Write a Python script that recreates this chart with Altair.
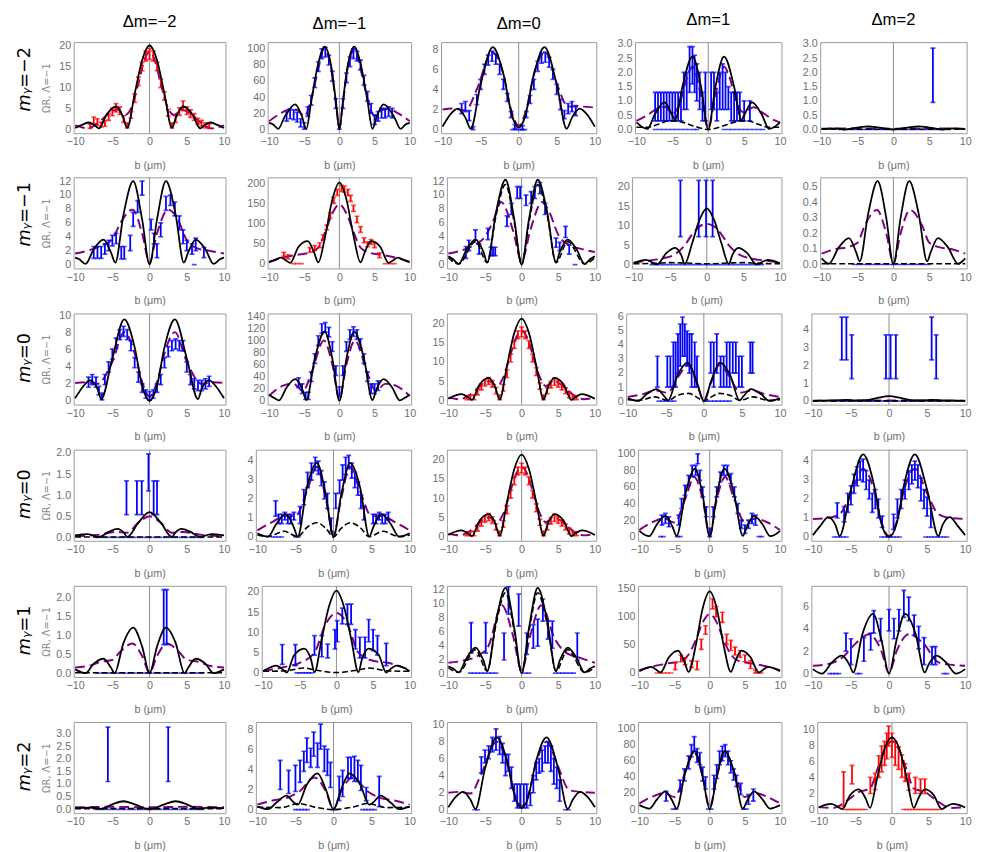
import math
import altair as alt
import pandas as pd

BLUE = "#0000ff"
RED = "#ff0000"
PURPLE = "#800080"
BLACK = "#000000"

X_TICKS = [-10, -5, 0, 5, 10]
X_DOMAIN = [-10.2, 10.2]
COL_TITLES = ["Δm=−2", "Δm=−1", "Δm=0", "Δm=1", "Δm=2"]
ROW_M = "mᵧ"
ROW_VALUES = ["=−2", "=−1", "=0", "=0", "=1", "=2"]
Y_TITLE = "ΩR, Λ=−1"
X_TITLE = "b (μm)"

# ---------------- row 1 (m=-2) ----------------
YT_11 = [0, 5, 10, 15, 20]; YD_11 = [-0.85, 20.8]
BK_11 = [(-10,0.4),(-9,1.2),(-8.2,1.7),(-7.4,1.1),(-6.8,0.3),(-5.8,3.5),(-4.5,5.5),(-3.6,3.2),(-3.0,0.4),(-2,8.5),(-1,16.5),(0,20),(1,16.5),(2,8.5),(3.0,0.4),(3.6,3.2),(4.5,5.5),(5.8,3.5),(6.8,0.3),(7.4,1.1),(8.2,1.7),(9,1.2),(10,0.4)]
PU_11 = [(-10,1.0),(-9,0.5),(-8.3,0.3),(-7,1.5),(-5.5,3.8),(-4.3,4.8),(-3.3,3.5),(-2.5,5),(-1.5,11),(-0.7,16.5),(0,18.5),(0.7,16.5),(1.5,11),(2.5,5),(3.3,3.5),(4.3,4.8),(5.5,3.8),(7,1.5),(8.3,0.3),(9,0.5),(10,1.0)]
EB_11 = [(-8.0,0.3,1.3),(-7.5,1.4,3.0),(-7.0,1.0,2.6),(-6.5,0.6,1.8),(-6.0,0.8,2.2),(-5.5,2.2,3.8),(-5.0,3.3,5.1),(-4.5,4.2,6.2),(-4.0,3.6,5.4),(-3.5,1.7,3.3),(-3.0,0.4,1.6),(-2.5,2.7,4.3),(-2.0,6.5,8.5),(-1.5,10.5,12.5),(-1.0,14.0,16.0),(-0.5,16.3,18.7),(0,16.7,19.3),(0.5,16.3,18.7),(1.0,14,16),(1.5,10,12),(2.0,7,9),(2.5,3.2,4.8),(3.0,0.4,1.6),(3.5,1.7,3.3),(4.0,3.4,5.2),(4.5,4.5,6.8),(5.0,3.6,5.4),(5.5,2.9,4.7),(6.0,2.2,3.8),(6.5,1.3,2.7),(7.0,0.8,2.2),(7.5,0.4,1.6),(8.0,0.3,1.3)]
Z_11 = []

YT_12 = [0, 20, 40, 60, 80, 100]; YD_12 = [-5, 108.5]
BK_12 = [(-10,8),(-9.4,6),(-8.7,0.5),(-7.8,15),(-6.3,31),(-5.4,18),(-4.7,0.5),(-4.0,35),(-3.0,82),(-2.1,103),(-1.2,80),(-0.5,35),(0,0),(0.5,35),(1.2,80),(2.1,103),(3.0,82),(4.0,35),(4.7,0.5),(5.4,18),(6.3,31),(7.8,15),(8.7,0.5),(9.4,6),(10,8)]
PU_12 = [(-10,10),(-8.5,19),(-7,25),(-6,24),(-5,16),(-4,38),(-3,75),(-2.2,100),(-1.2,78),(-0.4,25),(0,2),(0.4,25),(1.2,78),(2.2,100),(3,75),(4,38),(5,16),(6,24),(7,25),(8.5,19),(10,10)]
EB_12 = [(-7.5,10,22),(-7.0,13,25),(-6.5,12,24),(-6.0,9,21),(-5.5,3,13),(-5.0,0,8),(-4.5,16,28),(-4.0,30,42),(-3.5,52,64),(-3.0,72,84),(-2.5,88,100),(-2.0,90,102),(-1.5,80,92),(-1.0,60,72),(-0.5,26,38),(0,0,6),(0.5,26,38),(1.0,58,70),(1.5,78,90),(2.0,88,100),(2.5,85,97),(3.0,74,86),(3.5,55,67),(4.0,35,47),(4.5,20,32),(5.0,6,18),(5.5,10,22),(6.0,14,26),(6.5,14,26),(7.0,16,28),(7.5,14,26)]
Z_12 = []

YT_13 = [0, 2, 4, 6, 8]; YD_13 = [-0.35, 8.7]
BK_13 = [(-10,0.3),(-9,1.5),(-8,2.1),(-7,1.2),(-6.3,0.1),(-5,4.5),(-3.4,8.2),(-2,5.5),(-0.8,1.2),(0,0.2),(0.8,1.2),(2,5.5),(3.4,8.2),(5,4.5),(6.3,0.1),(7,1.2),(8,2.1),(9,1.5),(10,0.3)]
PU_13 = [(-10,2.0),(-8.5,2.1),(-7,1.9),(-5.5,4.0),(-3.5,7.7),(-2,5.5),(-1,2),(0,0.4),(1,2),(2,5.5),(3.5,7.7),(5,4.6),(6.5,2.3),(8,2.3),(10,2.2)]
EB_13 = [(-7.5,1.6,2.6),(-7.0,1.8,2.8),(-6.5,0.9,1.9),(-6.0,0.0,0.3),(-5.5,2.5,3.5),(-5.0,4.0,5.0),(-4.5,5.5,6.5),(-4.0,6.4,7.4),(-3.5,6.8,7.8),(-3.0,6.5,7.5),(-2.5,5.5,6.5),(-2.0,4.0,5.0),(-1.5,2.8,3.6),(-1.0,1.2,1.8),(-0.5,0.1,0.5),(0.5,0.0,0.4),(1.0,1.2,1.8),(1.5,2.6,3.4),(2.0,4.0,5.0),(2.5,5.8,6.8),(3.0,6.6,7.6),(3.5,6.7,7.7),(4.0,6.2,7.2),(4.5,5.0,6.0),(5.0,3.5,4.5),(5.5,2.0,3.0),(6.0,1.1,1.9),(6.5,1.6,2.6),(7.0,1.8,2.8),(7.5,1.4,2.4)]
Z_13 = [-0.8, -0.4, 0.0, 0.4, 0.8]

YT_14 = [0.0, 0.5, 1.0, 1.5, 2.0, 2.5, 3.0]; YD_14 = [-0.13, 3.06]
BK_14 = [(-10,0.25),(-8.5,0.02),(-7.4,0.55),(-6.1,0.95),(-5.0,0.5),(-4.6,0.33),(-3.6,1.5),(-2.2,2.55),(-1.0,1.5),(0,0.0),(1.0,1.5),(2.2,2.55),(3.6,1.5),(4.6,0.33),(5.0,0.5),(6.1,0.95),(7.4,0.55),(8.5,0.02),(10,0.25)]
PU_14 = [(-10,0.3),(-8.5,0.5),(-7,0.75),(-6,0.8),(-5,0.55),(-4,0.9),(-3,1.8),(-2.2,2.2),(-1,1.2),(0,0.05),(1,1.2),(2.2,2.2),(3,1.8),(4,0.9),(5,0.6),(6.3,0.78),(7.5,0.6),(9,0.35),(10,0.25)]
BD_14 = [(-10,0.08),(-8.5,0.08),(-7,0.18),(-5.5,0.3),(-4.6,0.3),(-3.5,0.25),(-2,0.12),(0,0),(2,0.12),(3.5,0.25),(4.6,0.3),(5.5,0.3),(7,0.18),(8.5,0.08),(10,0.08)]
EB_14 = [(-7.4,0.3,1.3),(-7.0,0.3,1.3),(-6.6,0.3,1.3),(-6.2,0.3,1.3),(-5.8,0.3,1.3),(-5.4,0.3,1.3),(-5.0,0.3,1.3),(-4.6,0.3,1.3),(-4.2,0.3,1.3),(-3.8,0.3,1.3),(-3.4,0.7,2.0),(-3.0,0.7,2.0),(-2.6,1.3,2.9),(-2.2,1.6,2.9),(-1.9,1.3,2.6),(-1.6,1.0,2.3),(-1.2,0.7,2.0),(-0.8,0.3,1.3),(-0.4,0.3,2.0),(0.4,0.7,2.0),(0.8,0.7,2.0),(1.2,0.3,1.3),(1.6,0.7,2.0),(2.0,0.7,2.3),(2.4,0.7,2.0),(2.8,0.7,1.5),(3.2,0.3,1.3),(3.6,0.3,1.3),(4.0,0.3,1.3),(4.4,0.3,1.3),(5.0,0.3,1.0),(5.8,0.3,1.0)]
Z_14 = [-7.4,-6.8,-6.2,-5.6,-5.0,-4.4,-3.8,-3.2,-2.6,-2.0,-1.6,2.2,2.8,3.4,4.0,4.6,5.2,5.8,6.4,7.0,7.6]

YT_15 = [0.0, 0.5, 1.0, 1.5, 2.0, 2.5, 3.0]; YD_15 = [-0.13, 3.06]
BK_15 = [(-10,0.01),(-8,0.04),(-6.8,0.0),(-5,0.07),(-3.5,0.11),(-2,0.07),(0,0.0),(2,0.07),(3.5,0.11),(5,0.07),(6.8,0.0),(8,0.04),(10,0.01)]
PU_15 = [(-10,0.03),(-5,0.04),(0,0.03),(5,0.04),(10,0.03)]
BD_15 = [(-10,0.01),(0,0.01),(10,0.01)]
EB_15 = [(5.5,0.95,2.85)]
Z_15 = [-7.3,-6.7,-6.1,-5.5,-4.9,-4.3,-3.7,-3.1,-2.5,-1.9,-1.3,-0.7,-0.1,0.5,1.1,1.7,2.3,2.9,3.5,4.1,4.7,5.3,5.9,6.5,7.1,7.7]

# ---------------- row 2 (m=-1) ----------------
YT_21 = [0, 2, 4, 6, 8, 10, 12]; YD_21 = [-0.55, 12.55]
BK_21 = [(-10,1.0),(-9.5,0.8),(-8.6,0.1),(-7.5,2.2),(-6.2,3.6),(-5.2,1.8),(-4.6,0.3),(-3.5,7.2),(-2.2,12),(-1.0,6.5),(0,0),(1.0,6.5),(2.2,12),(3.5,7.2),(4.6,0.3),(5.2,1.8),(6.2,3.6),(7.5,2.2),(8.6,0.1),(9.5,0.8),(10,1.0)]
PU_21 = [(-10,1.6),(-8,2.1),(-6.5,2.7),(-5,3.7),(-3.8,6.2),(-2.3,7.9),(-1,4.5),(0,0.3),(1,4.5),(2.5,7.9),(3.8,6.5),(5,3.5),(6.5,2.3),(8,2.0),(10,1.6)]
EB_21 = [(-7.5,0.9,2.6),(-7.0,0.9,2.6),(-6.5,0.9,2.6),(-6.0,1.5,3.0),(-5.5,2.0,3.5),(-5.0,2.7,4.2),(-4.5,3.0,4.5),(-3.8,0.8,2.6),(-3.4,0.8,2.6),(-2.6,2.0,4.2),(-2.2,5.5,7.5),(-1.6,7.5,9.2),(-1.0,10.0,12.0),(0.2,5.0,6.5),(0.6,3.0,4.5),(1.0,1.0,3.0),(1.5,4.0,6.0),(2.2,7.8,9.8),(2.8,8.5,10.0),(3.4,7.0,9.0),(4.0,5.0,7.0),(4.5,3.0,5.0),(5.0,2.0,3.5),(5.7,1.5,3.0),(6.2,2.0,3.8),(7.3,1.0,2.5)]
Z_21 = [6.0]

YT_22 = [0, 50, 100, 150, 200]; YD_22 = [-12, 215]
BK_22 = [(-10,3),(-9,10),(-8.3,15),(-7.6,8),(-7.0,2),(-5.8,42),(-4.5,56),(-3.6,28),(-3.0,3),(-2,70),(-1,160),(0,202),(1,160),(2,70),(3.0,3),(3.6,28),(4.5,56),(5.8,42),(7.0,2),(7.6,8),(8.3,15),(9,10),(10,3)]
PU_22 = [(-10,5),(-8,15),(-6,22),(-4.5,26),(-3,40),(-2,80),(-1,125),(0,148),(1,125),(2,80),(3,40),(4.5,26),(6,22),(8,15),(10,5)]
EB_22 = [(-7.9,18,28),(-7.3,12,22),(-4.2,28,40),(-3.5,33,45),(-2.8,40,52),(-2.3,60,72),(-1.8,84,96),(-1.3,113,127),(-0.8,150,165),(-0.3,170,185),(0.3,180,195),(0.7,178,193),(1.2,170,185),(1.6,155,170),(2.0,130,145),(2.5,102,118),(3.0,78,92),(3.5,52,64),(4.0,42,54),(4.5,48,60),(5.0,40,52),(5.7,15,27)]
Z_22 = [-6.5, -6.0, -5.4, 6.5, 7.2, 7.8]

YT_23 = [0, 2, 4, 6, 8, 10, 12]; YD_23 = [-0.55, 12.55]
BK_23 = [(-10,1.2),(-9.4,0.8),(-8.6,0.1),(-7.5,2.2),(-6.3,3.6),(-5.2,1.8),(-4.7,0.3),(-3.5,7.5),(-2.2,12.2),(-1.0,6.5),(0,0),(1.0,6.5),(2.2,12.2),(3.5,7.5),(4.7,0.3),(5.2,1.8),(6.3,3.6),(7.5,2.2),(8.6,0.1),(9.4,0.8),(10,1.2)]
BD_23 = [(-10,1.0),(-8.6,0.1),(-6.3,3.3),(-4.7,0.3),(-3.5,7.0),(-2.2,11.5),(-1.0,6.0),(0,0),(1.0,6.0),(2.2,11.5),(3.5,7.0),(4.7,0.3),(6.3,3.3),(8.6,0.1),(10,1.0)]
PU_23 = [(-10,1.6),(-8,2.1),(-6.5,2.8),(-5,4),(-3.8,6.5),(-2.8,9),(-1.2,5),(0,0.5),(1.2,5),(2.8,9),(3.8,7.5),(5,4.3),(6.5,2.8),(8,2.3),(10,1.8)]
EB_23 = [(-7.6,0.9,2.6),(-7.2,2.0,3.5),(-6.3,3.5,5.0),(-5.8,1.5,3.0),(-4.6,3.6,5.2),(-4.2,1.3,2.5),(-3.9,1.3,2.5),(-3.6,1.3,2.5),(-2.0,5.5,7.0),(-1.4,7.2,8.8),(-0.6,9.5,11.2),(-0.2,9.5,11.2),(0.6,8.5,10.0),(1.3,8.8,10.5),(1.8,9.5,11.2),(2.5,10.2,11.8),(3.2,7.2,8.8),(4.7,2.5,3.8),(5.2,2.0,3.2),(6.0,3.9,5.5),(6.5,1.5,2.8)]
Z_23 = [7.3]

YT_24 = [0, 5, 10, 15, 20]; YD_24 = [-1.0, 22.5]
BK_24 = [(-10,0.3),(-9,1.0),(-8.3,1.2),(-7.5,0.6),(-6.8,0.05),(-5.5,3.0),(-4.3,4.3),(-3.5,2.5),(-3.0,0.2),(-2,5.5),(-1,11.5),(0,14.5),(1,11.5),(2,5.5),(3.0,0.2),(3.5,2.5),(4.3,4.3),(5.5,3.0),(6.8,0.05),(7.5,0.6),(8.3,1.2),(9,1.0),(10,0.3)]
PU_24 = [(-10,0.5),(-8,1.0),(-6,1.6),(-4.5,2.5),(-3,5),(-2,7.8),(-1,9.8),(0,10.5),(1,9.8),(2,7.8),(3,5),(4.5,2.5),(6,1.6),(8,1.0),(10,0.5)]
BD_24 = [(-10,0.2),(-7,0.3),(-5,0.5),(-3,0.4),(0,0.2),(3,0.4),(5,0.5),(7,0.3),(10,0.2)]
EB_24 = [(-3.6,7.2,21.7),(-1.1,7.2,21.7),(-0.1,7.2,21.7),(0.8,7.2,21.7)]
Z_24 = [-7.5,-6.9,-6.3,-5.7,-5.1,-4.5,-3.9,-3.3,-2.7,-2.1,-1.5,-0.9,-0.3,0.3,0.9,1.5,2.1,2.7,3.3,3.9,4.5,5.1,5.7,6.3,6.9,7.5]

YT_25 = [0.0, 0.1, 0.2, 0.3, 0.4, 0.5]; YD_25 = [-0.025, 0.56]
BK_25 = [(-10,0.04),(-9,0.005),(-7.6,0.11),(-6.2,0.17),(-5.2,0.08),(-4.7,0.02),(-3.5,0.33),(-2.2,0.535),(-1.0,0.3),(0,0),(1.0,0.3),(2.2,0.535),(3.5,0.33),(4.7,0.02),(5.2,0.08),(6.2,0.17),(7.6,0.11),(9,0.005),(10,0.04)]
PU_25 = [(-10,0.07),(-8,0.1),(-6.5,0.11),(-5,0.14),(-4,0.25),(-2.3,0.35),(-1,0.2),(0,0.01),(1,0.2),(2.3,0.35),(4,0.25),(5,0.14),(6.5,0.11),(8,0.1),(10,0.07)]
BD_25 = [(-10,0.005),(0,0.005),(10,0.005)]
EB_25 = []
Z_25 = [-5.4,-4.8,-4.2,-3.6,-3.0,-2.4,-1.8,-1.2,-0.6,0.0,0.6,1.2,1.8,2.4,3.0,3.6,4.2,4.8]

# ---------------- row 3 (m=0) ----------------
YT_31 = [0, 2, 4, 6, 8, 10]; YD_31 = [-0.45, 10.3]
BK_31 = [(-10,0.3),(-9,1.6),(-8,2.4),(-7,1.4),(-6.5,0.2),(-5,5),(-3.4,9.6),(-2,6.3),(-1,1.8),(0,0),(1,1.8),(2,6.3),(3.4,9.6),(5,5),(6.5,0.2),(7,1.4),(8,2.4),(9,1.6),(10,0.3)]
PU_31 = [(-10,2.1),(-8.5,2.2),(-7,2.0),(-5,4.6),(-3.4,8.1),(-2,5.6),(-1,2.2),(0,0.5),(1,2.2),(2,5.6),(3.4,8.1),(5,4.6),(7,2.0),(8.5,2.2),(10,2.1)]
EB_31 = [(-8.2,1.6,2.8),(-7.7,1.9,3.1),(-7.2,1.6,2.8),(-6.8,0.7,1.7),(-6.4,0.1,0.9),(-6.0,1.9,3.1),(-5.5,3.4,4.6),(-5.0,4.9,6.1),(-4.5,6.2,7.4),(-4.0,7.2,8.4),(-3.5,7.6,8.8),(-3.0,7.2,8.4),(-2.5,5.9,7.1),(-2.0,3.9,5.1),(-1.5,2.2,3.4),(-1.0,1.0,2.0),(-0.5,0.3,1.3),(0,0.1,1.1),(0.5,0.3,1.3),(1.0,1.0,2.0),(1.5,1.9,3.1),(2.0,3.9,5.1),(2.5,5.2,6.4),(3.0,5.9,7.1),(3.5,6.1,7.3),(4.0,5.9,7.1),(4.5,5.9,7.1),(5.0,3.4,4.6),(5.5,1.9,3.1),(6.0,1.4,2.6),(6.5,1.2,2.4),(7.0,1.2,2.4),(7.5,1.4,2.6),(8.0,1.7,2.9)]
Z_31 = []

YT_32 = [0, 20, 40, 60, 80, 100, 120, 140]; YD_32 = [-6.5, 145]
BK_32 = [(-10,10),(-9.2,4),(-8.6,0.5),(-7.5,22),(-6.3,36),(-5.3,20),(-4.7,1),(-3.5,70),(-2.1,115),(-1,70),(0,0),(1,70),(2.1,115),(3.5,70),(4.7,1),(5.3,20),(6.3,36),(7.5,22),(8.6,0.5),(9.2,4),(10,10)]
PU_32 = [(-10,8),(-8,25),(-6.5,28),(-5.2,16),(-4,45),(-2.2,100),(-1,60),(0,3),(1,60),(2.2,100),(4,45),(5.2,16),(6.5,28),(8,25),(10,8)]
EB_32 = [(-5.8,22,38),(-5.3,12,28),(-4.8,2,14),(-4.4,2,14),(-4.0,32,48),(-3.5,62,78),(-3.0,92,108),(-2.5,112,128),(-2.0,114,130),(-1.5,106,122),(-1.0,82,98),(-0.5,42,58),(0,7,23),(0.5,42,58),(1.0,82,98),(1.5,102,118),(2.0,107,123),(2.5,102,118),(3.0,87,103),(3.5,62,78),(4.0,32,48),(4.5,12,28),(5.0,12,28),(5.5,17,33)]
Z_32 = []

YT_33 = [0, 5, 10, 15, 20]; YD_33 = [-1.0, 22.5]
BK_33 = [(-10,0.5),(-9,1.4),(-8.2,1.7),(-7.4,1.0),(-6.8,0.2),(-5.8,4.0),(-4.5,5.9),(-3.6,3.5),(-3.0,0.3),(-2,9),(-1,17.5),(0,21.2),(1,17.5),(2,9),(3.0,0.3),(3.6,3.5),(4.5,5.9),(5.8,4.0),(6.8,0.2),(7.4,1.0),(8.2,1.7),(9,1.4),(10,0.5)]
PU_33 = [(-10,0.8),(-8.5,0.4),(-7,1.6),(-5.5,4),(-4.4,5.0),(-3.3,3.8),(-2.5,6),(-1.5,12),(-0.7,16.5),(0,18),(0.7,16.5),(1.5,12),(2.5,6),(3.3,3.8),(4.4,5.0),(5.5,4),(7,1.6),(8.5,0.4),(10,0.8)]
EB_33 = [(-7.5,0.3,1.3),(-7.0,0.3,1.3),(-6.5,0.3,1.5),(-6.0,1.5,3.0),(-5.5,2.8,4.4),(-5.0,3.8,5.4),(-4.5,4.2,6.0),(-4.0,3.5,5.2),(-3.5,1.8,3.4),(-3.0,0.3,1.5),(-2.5,2.5,4.2),(-2.0,6.0,8.0),(-1.5,10.0,12.0),(-1.0,13.5,15.5),(-0.5,16.0,18.0),(0,16.5,19.0),(0.5,16.0,18.0),(1.0,13.5,15.5),(1.5,10.0,12.0),(2.0,6.5,8.5),(2.5,3.0,4.6),(3.0,0.3,1.5),(3.5,1.8,3.4),(4.0,3.3,5.0),(4.5,4.0,5.8),(5.0,3.5,5.2),(5.5,2.8,4.4),(6.0,1.8,3.3),(6.5,0.8,2.2),(7.0,0.3,1.3),(7.5,0.3,1.3)]
Z_33 = []

YT_34 = [0, 1, 2, 3, 4, 5, 6]; YD_34 = [-0.25, 6.25]
BK_34 = [(-10,0.2),(-8.6,0.02),(-7.5,0.5),(-6.2,0.85),(-5.2,0.35),(-4.7,0.05),(-3.5,1.8),(-2.1,2.75),(-1,1.5),(0,0),(1,1.5),(2.1,2.75),(3.5,1.8),(4.7,0.05),(5.2,0.35),(6.2,0.85),(7.5,0.5),(8.6,0.02),(10,0.2)]
BD_34 = [(-10,0.1),(-8.5,0.05),(-6.5,0.3),(-4.7,0.05),(-3.5,0.4),(-2,0.55),(-1,0.3),(0,0),(1,0.3),(2,0.55),(3.5,0.4),(4.7,0.05),(6.5,0.3),(8.5,0.05),(10,0.1)]
PU_34 = [(-10,0.3),(-8,0.5),(-6.3,0.75),(-4.8,0.6),(-3.3,1.8),(-2.1,2.6),(-1,1.4),(0,0.05),(1,1.4),(2.1,2.6),(3.3,1.8),(4.8,0.6),(6.3,0.75),(8,0.5),(10,0.3)]
EB_34 = [(-6.1,1.0,3.2),(-4.8,1.0,3.2),(-4.4,1.0,3.2),(-4.0,1.0,4.2),(-3.7,1.0,4.2),(-3.4,2.0,4.8),(-3.1,2.5,5.5),(-2.8,3.2,6.0),(-2.5,3.2,5.5),(-2.2,2.5,5.0),(-1.9,2.0,4.8),(-1.6,1.0,4.8),(-1.2,1.0,4.2),(-0.9,1.0,3.2),(0.9,2.0,4.2),(1.3,1.0,4.2),(1.7,2.0,4.8),(2.2,1.0,3.2),(2.6,1.0,3.2),(3.0,1.0,4.2),(3.4,1.0,4.2),(3.8,2.0,4.2),(4.2,2.0,4.2),(4.6,1.0,3.2),(5.0,1.0,3.2),(6.1,2.0,4.2),(6.4,2.0,4.2)]
Z_34 = [-5.9,-5.4,-4.9,-4.4,-3.9,0.4,0.9,1.4,1.9,2.4,2.9,3.4]

YT_35 = [0, 1, 2, 3, 4]; YD_35 = [-0.2, 4.9]
BK_35 = [(-10,0.01),(-7,0.04),(-5.5,0.06),(-4.5,0.03),(-3,0.05),(-1.5,0.18),(0,0.27),(1.5,0.18),(3,0.05),(4.5,0.03),(5.5,0.06),(7,0.04),(10,0.01)]
PU_35 = [(-10,0.02),(0,0.03),(10,0.02)]
BD_35 = [(-10,0.01),(0,0.01),(10,0.01)]
EB_35 = [(-6.2,2.3,4.7),(-5.6,2.3,4.7),(-4.9,1.25,3.7),(-0.4,1.25,3.7),(0.2,1.25,3.7),(0.9,1.25,3.7),(5.6,2.3,4.7),(6.2,1.25,3.7)]
Z_35 = [-7.2,-6.6,-6.0,-5.4,-4.8,-4.2,-3.6,-3.0,-2.4,-1.8,-1.2,-0.6,0.0,0.6,1.2,1.8,2.4,3.0,3.6,4.2,4.8,5.4,6.0,6.6,7.2]

# ---------------- row 4 (m=0, second) ----------------
YT_41 = [0.0, 0.5, 1.0, 1.5, 2.0]; YD_41 = [-0.08, 2.08]
BK_41 = [(-10,0.05),(-8.3,0.08),(-6.8,0.01),(-5.5,0.13),(-4.3,0.2),(-3.4,0.1),(-3.0,0.01),(-1.5,0.35),(0,0.6),(1.5,0.35),(3.0,0.01),(3.4,0.1),(4.3,0.2),(5.5,0.13),(6.8,0.01),(8.3,0.08),(10,0.05)]
PU_41 = [(-10,0.03),(-7,0.06),(-4.5,0.13),(-3,0.11),(-1.5,0.35),(0,0.5),(1.5,0.35),(3,0.11),(4.5,0.13),(7,0.06),(10,0.03)]
BD_41 = [(-10,0.01),(0,0.01),(10,0.01)]
EB_41 = [(-3.1,0.54,1.34),(-1.7,0.54,1.34),(-1.05,0.54,1.34),(-0.15,1.1,1.98),(0.55,0.54,1.34),(1.0,0.54,1.34)]
Z_41 = [-7.0,-6.3,-5.6,-4.9,-4.2,-3.5,-2.8,-2.1,-1.4,-0.7,0.0,0.7,1.4,2.1,2.8,3.5,4.2,4.9,5.6,6.3,7.0]

YT_42 = [0, 1, 2, 3, 4]; YD_42 = [-0.2, 4.6]
BK_42 = [(-10,0.2),(-8.6,0.02),(-7.5,0.7),(-6.3,1.2),(-5.2,0.5),(-4.7,0.02),(-3.5,2.6),(-2.2,3.9),(-1,2.2),(0,0),(1,2.2),(2.2,3.9),(3.5,2.6),(4.7,0.02),(5.2,0.5),(6.3,1.2),(7.5,0.7),(8.6,0.02),(10,0.2)]
BD_42 = [(-10,0.1),(-8.6,0.02),(-6.5,0.3),(-4.7,0.02),(-3.5,0.5),(-2.2,0.75),(-1,0.45),(0,0),(1,0.45),(2.2,0.75),(3.5,0.5),(4.7,0.02),(6.5,0.3),(8.6,0.02),(10,0.1)]
PU_42 = [(-10,0.35),(-8,0.8),(-6.5,1.1),(-5,1.1),(-3.5,2.4),(-2.2,3.7),(-1,2),(0,0.1),(1,2),(2.2,3.7),(3.5,2.4),(5,1.1),(6.5,1.1),(8,0.8),(10,0.35)]
EB_42 = [(-7.6,1.1,1.9),(-7.2,0.7,1.2),(-6.8,0.7,1.2),(-6.4,0.9,1.3),(-6.0,0.7,1.2),(-5.6,0.7,1.2),(-5.2,0.9,1.3),(-4.4,0.7,1.6),(-3.9,1.7,2.5),(-3.4,2.6,3.4),(-2.9,3.0,3.9),(-2.4,3.5,4.2),(-2.0,3.3,4.0),(-1.6,2.7,3.5),(-1.2,2.0,2.9),(-0.8,1.5,2.3),(-0.3,0.3,1.0),(0.3,1.5,2.3),(0.8,2.3,3.0),(1.2,3.0,3.8),(1.6,3.3,4.2),(2.0,3.6,4.3),(2.4,3.1,3.9),(2.8,2.6,3.4),(3.2,2.2,2.9),(3.6,1.5,2.2),(4.0,0.9,1.6),(5.2,0.7,1.2),(5.6,0.7,1.2),(6.0,0.9,1.3),(6.4,0.7,1.2),(6.8,0.7,1.2),(7.2,0.9,1.3)]
Z_42 = [-8.0,-7.6,-7.2,-6.8,-5.0,-4.6]

YT_44 = [0, 20, 40, 60, 80, 100]; YD_44 = [-5, 105]
BK_44 = [(-10,7),(-9.2,2),(-8.6,0.5),(-7.5,15),(-6.3,25),(-5.3,12),(-4.7,1),(-3.5,50),(-2.1,82),(-1,50),(0,0),(1,50),(2.1,82),(3.5,50),(4.7,1),(5.3,12),(6.3,25),(7.5,15),(8.6,0.5),(9.2,2),(10,7)]
PU_44 = [(-10,8),(-8,18),(-6.5,22),(-5,17),(-3.5,45),(-2.2,72),(-1,45),(0,2),(1,45),(2.2,72),(3.5,45),(5,17),(6.5,22),(8,18),(10,8)]
EB_44 = [(-6.8,14,26),(-6.3,16,28),(-5.8,12,24),(-4.4,14,26),(-4.0,34,46),(-3.5,50,62),(-3.0,62,74),(-2.5,72,86),(-2.0,74,86),(-1.7,88,100),(-1.4,68,80),(-1.0,48,60),(-0.5,24,36),(0,0,10),(0.5,24,36),(1.0,48,60),(1.5,66,78),(2.0,74,86),(2.5,74,86),(3.0,64,76),(3.5,48,60),(4.0,28,40),(4.5,10,20),(5.0,4,14),(5.5,10,20),(6.0,16,28),(6.5,14,26)]
Z_44 = [-7.0,-6.6,-4.6,-4.2,7.0,7.4]

YT_45 = [0, 1, 2, 3, 4]; YD_45 = [-0.2, 4.6]
BK_45 = [(-10,0.1),(-9,0.6),(-8,1.05),(-7,0.6),(-6.5,0.05),(-5,2.5),(-3.4,4.35),(-2,2.8),(-1,0.7),(0,0),(1,0.7),(2,2.8),(3.4,4.35),(5,2.5),(6.5,0.05),(7,0.6),(8,1.05),(9,0.6),(10,0.1)]
PU_45 = [(-10,0.95),(-8,1.0),(-6.5,1.2),(-5,2.3),(-3.4,3.6),(-2,2.5),(-1,0.8),(0,0.05),(1,0.8),(2,2.5),(3.4,3.6),(5,2.3),(6.5,1.2),(8,1.0),(10,0.95)]
EB_45 = [(-6.8,1.0,1.8),(-5.9,0.8,1.6),(-5.4,1.3,2.3),(-5.0,1.7,2.7),(-4.6,2.3,3.3),(-4.2,2.7,3.7),(-3.8,3.0,4.0),(-3.4,2.9,4.1),(-3.0,2.5,3.5),(-2.6,2.0,3.0),(-2.2,1.3,2.3),(-1.8,1.5,2.5),(-1.4,1.0,2.0),(-0.9,0.5,1.1),(0.6,0.4,1.2),(1.1,1.0,2.0),(1.6,1.5,2.5),(2.1,2.0,3.0),(2.6,2.5,3.5),(3.0,2.8,3.8),(3.4,3.0,4.0),(3.8,2.6,3.8),(4.2,1.9,3.1),(4.6,1.5,2.5),(5.0,1.1,2.1),(5.5,0.5,1.5)]
Z_45 = [-7.2,-6.8,-6.4,-6.0,-5.6,-1.0,-0.6,-0.2,0.2,0.6,1.0,1.4,4.8,5.2,5.6,6.0,6.4,6.8,7.2,7.6]

# ---------------- row 5 (m=1) ----------------
YT_51 = [0.0, 0.5, 1.0, 1.5, 2.0]; YD_51 = [-0.1, 2.3]
BK_51 = [(-10,0.1),(-8.6,0.0),(-7.5,0.25),(-6.2,0.38),(-5.2,0.15),(-4.7,0.0),(-3.5,0.8),(-2.2,1.2),(-1,0.7),(0,0),(1,0.7),(2.2,1.2),(3.5,0.8),(4.7,0.0),(5.2,0.15),(6.2,0.38),(7.5,0.25),(8.6,0.0),(10,0.1)]
PU_51 = [(-10,0.15),(-8,0.2),(-6.5,0.3),(-5,0.35),(-4,0.55),(-2.3,0.78),(-1,0.45),(0,0.02),(1,0.45),(2.3,0.78),(4,0.55),(5,0.35),(6.5,0.3),(8,0.2),(10,0.15)]
BD_51 = [(-10,0.01),(0,0.01),(10,0.01)]
EB_51 = [(1.9,0.75,2.2),(2.3,0.75,2.2)]
Z_51 = [-7.0,-6.3,-5.6,-4.9,-4.2,-3.5,-2.8,-2.1,-1.4,-0.7,0.0,0.7,1.4,2.1,2.8,3.5,4.2,4.9,5.6,6.3,7.0]

YT_52 = [0, 5, 10, 15, 20]; YD_52 = [-1.0, 21.5]
BK_52 = [(-10,0.5),(-9,1.4),(-8.2,1.8),(-7.4,1.0),(-6.8,0.1),(-5.8,4.3),(-4.4,6.0),(-3.5,3.5),(-3.0,0.2),(-2,8.5),(-1,16.5),(0,20.3),(1,16.5),(2,8.5),(3.0,0.2),(3.5,3.5),(4.4,6.0),(5.8,4.3),(6.8,0.1),(7.4,1.0),(8.2,1.8),(9,1.4),(10,0.5)]
PU_52 = [(-10,0.5),(-7,1.5),(-5,2.5),(-3,5),(-1.5,12),(0,14.8),(1.5,12),(3,5),(5,3),(7,2.5),(10,0.8)]
BD_52 = [(-10,0.4),(-7,0.5),(-4.5,1.2),(-2.5,0.6),(0,0.1),(2.5,0.6),(4.5,1.2),(7,0.5),(10,0.4)]
EB_52 = [(-7.4,2.1,7.0),(-5.6,1.8,7.0),(-3.0,4.4,9.2),(-2.0,4.0,9.2),(-1.2,3.7,7.1),(-0.2,5.9,10.7),(0.1,7.7,12.9),(0.8,12.1,16.0),(1.5,12.0,17.0),(2.0,12.0,17.0),(2.6,5.9,10.7),(3.2,3.7,8.8),(3.9,3.7,8.8),(4.4,7.7,13.2),(5.0,5.5,10.7),(5.6,4.4,9.2),(6.8,1.8,7.3)]
Z_52 = [-5.4,-5.0,-4.6,-4.2,-3.8,-3.4]

YT_53 = [0, 2, 4, 6, 8, 10, 12]; YD_53 = [-0.55, 12.6]
BK_53 = [(-10,1.0),(-9.4,0.7),(-8.6,0.1),(-7.5,2.2),(-6.3,3.7),(-5.2,1.8),(-4.7,0.3),(-3.5,7.5),(-2.2,12.3),(-1.0,6.5),(0,0),(1.0,6.5),(2.2,12.3),(3.5,7.5),(4.7,0.3),(5.2,1.8),(6.3,3.7),(7.5,2.2),(8.6,0.1),(9.4,0.7),(10,1.0)]
BD_53 = [(-10,0.8),(-8.6,0.1),(-6.3,3.4),(-4.7,0.3),(-3.5,7.0),(-2.2,11.6),(-1.0,6.0),(0,0),(1.0,6.0),(2.2,11.6),(3.5,7.0),(4.7,0.3),(6.3,3.4),(8.6,0.1),(10,0.8)]
PU_53 = [(-10,1.5),(-8,1.8),(-6,2.5),(-4.5,4),(-2.7,9.8),(-1.2,5.5),(0,0.4),(1.2,5.5),(2.7,9.8),(4.5,5),(6,3),(8,2.2),(10,1.5)]
EB_53 = [(-6.9,2.9,7.3),(-4.9,2.9,7.3),(-2.4,1.9,5.8),(-1.8,8.5,12.5),(-0.4,6.8,11.4),(0.7,2.7,5.8),(1.6,3.6,7.0),(2.2,3.9,7.8),(2.9,7.5,10.7),(3.6,4.9,7.5),(4.2,3.6,7.5),(7.6,1.9,5.8)]
Z_53 = [-7.0,-6.5,-6.0,-5.5,-5.0,-4.5,-4.0,-3.5,0.5,1.0,4.6,5.1,5.6,6.1,6.6,7.1]

YT_54 = [0, 50, 100, 150]; YD_54 = [-7, 155]
BK_54 = [(-10,3),(-9,9),(-8.3,11),(-7.6,6),(-7,1),(-5.8,28),(-4.5,40),(-3.6,20),(-3,2),(-2,48),(-1,115),(0,145),(1,115),(2,48),(3,2),(3.6,20),(4.5,40),(5.8,28),(7,1),(7.6,6),(8.3,11),(9,9),(10,3)]
PU_54 = [(-10,5),(-8,12),(-6,17),(-4,22),(-3,33),(-2,58),(-1,90),(0,105),(1,90),(2,58),(3,33),(4,22),(6,17),(8,12),(10,5)]
EB_54 = [(-4.9,6,18),(-4.1,20,32),(-3.5,15,27),(-2.6,10,22),(-1.8,6,21),(-1.2,42,60),(-0.6,69,84),(0.4,114,132),(0.9,100,118),(1.8,90,108),(2.4,51,69),(3.0,40,58),(3.6,32,46),(4.3,28,40),(5.0,20,32),(5.8,8,22),(6.5,0,6)]
Z_54 = [-7.5,-7.0,-6.5,-6.0,-5.5,6.8,7.3]

YT_55 = [0, 2, 4, 6]; YD_55 = [-0.3, 7.8]
BK_55 = [(-10,0.4),(-8.8,0.0),(-7.5,1.0),(-6.2,1.6),(-5.2,0.8),(-4.7,0.1),(-3.5,3.5),(-2.1,5.3),(-1,3),(0,0),(1,3),(2.1,5.3),(3.5,3.5),(4.7,0.1),(5.2,0.8),(6.2,1.6),(7.5,1.0),(8.8,0.0),(10,0.4)]
PU_55 = [(-10,0.7),(-8,0.85),(-6,1.5),(-4.5,2.6),(-2.6,3.5),(-1,2),(0,0.05),(1,2),(2.6,3.5),(4.5,2.7),(6.5,1.0),(8,0.8),(10,0.7)]
EB_55 = [(-5.65,2.0,3.6),(-5.0,0.8,3.1),(-3.3,1.1,3.2),(-2.4,2.1,3.6),(-2.0,3.6,5.6),(-1.1,2.9,4.9),(0,3.8,5.7),(0.65,3.1,4.9),(1.3,3.8,5.7),(1.95,5.0,7.4),(2.6,4.7,6.8),(3.3,3.4,5.2),(3.9,2.2,4.2),(4.6,0.8,3.2),(5.65,0.8,2.4),(6.1,0.8,2.4)]
Z_55 = [-7.8,-7.4,-7.0,-6.6,-4.2,-3.8,7.2,7.6]

# ---------------- row 6 (m=2) ----------------
YT_61 = [0.0, 0.5, 1.0, 1.5, 2.0, 2.5, 3.0]; YD_61 = [-0.15, 3.45]
BK_61 = [(-10,0.05),(-8,0.07),(-6.5,0.02),(-5,0.2),(-3.5,0.32),(-2,0.2),(0,0.0),(2,0.2),(3.5,0.32),(5,0.2),(6.5,0.02),(8,0.07),(10,0.05)]
PU_61 = [(-10,0.08),(-5,0.1),(0,0.08),(5,0.1),(10,0.08)]
BD_61 = [(-10,0.03),(0,0.03),(10,0.03)]
EB_61 = [(-5.6,1.1,3.25),(2.5,1.1,3.25)]
Z_61 = [-7.0,-6.3,-5.6,-4.9,-4.2,-3.5,-2.8,-2.1,-1.4,-0.7,0.0,0.7,1.4,2.1,2.8,3.5,4.2,4.9,5.6,6.3,7.0]

YT_62 = [0, 2, 4, 6, 8]; YD_62 = [-0.35, 8.7]
BK_62 = [(-10,0.3),(-8.6,0.05),(-7.5,0.7),(-6.2,1.4),(-5.2,0.7),(-4.7,0.5),(-3.5,2.5),(-2.1,3.6),(-1,2),(0,0),(1,2),(2.1,3.6),(3.5,2.5),(4.7,0.5),(5.2,0.7),(6.2,1.4),(7.5,0.7),(8.6,0.05),(10,0.3)]
PU_62 = [(-10,0.5),(-8,0.9),(-6,1.2),(-4.5,1.8),(-2.5,3.2),(-1,1.8),(0,0.05),(1,1.8),(2.5,3.2),(4.5,1.8),(6,1.2),(8,0.9),(10,0.5)]
BD_62 = [(-10,0.25),(-7,0.2),(-4.5,0.6),(-2.5,0.25),(0,0),(2.5,0.25),(4.5,0.6),(7,0.2),(10,0.25)]
EB_62 = [(-7.0,2.0,4.9),(-5.9,1.6,3.9),(-5.0,1.8,4.4),(-4.4,2.7,4.9),(-3.9,3.8,5.8),(-3.5,4.7,7.1),(-3.0,4.2,6.1),(-2.6,5.3,7.7),(-2.1,4.2,6.6),(-1.7,6.0,8.5),(-1.2,3.8,6.3),(-0.8,3.4,6.0),(-0.4,2.2,4.7),(0.75,0.9,3.3),(1.2,1.3,3.9),(1.9,3.1,5.2),(2.3,3.1,5.2),(2.75,2.8,5.3),(3.2,2.8,4.9),(3.6,1.9,4.4),(4.3,0.9,2.2),(6.0,0.3,3.3)]
Z_62 = [-5.0,-4.6,-4.2,-3.8,-3.4,0.0,0.4,3.8,4.2,4.6,5.0,5.4]

YT_63 = [0, 2, 4, 6, 8, 10]; YD_63 = [-0.4, 10.3]
BK_63 = [(-10,0.3),(-9,1.5),(-8,2.1),(-7,1.2),(-6.3,0.1),(-5,4.8),(-3.4,8.5),(-2,5.8),(-0.8,1.2),(0,0.2),(0.8,1.2),(2,5.8),(3.4,8.5),(5,4.8),(6.3,0.1),(7,1.2),(8,2.1),(9,1.5),(10,0.3)]
PU_63 = [(-10,2.0),(-8.5,2.1),(-7,1.9),(-5.5,4.2),(-3.4,8.0),(-2,5.5),(-1,2),(0,0.4),(1,2),(2,5.5),(3.4,8.0),(5,5),(6.5,2.3),(8,2.1),(10,2.0)]
EB_63 = [(-5.5,4.3,6.2),(-5.0,5.5,7.0),(-4.5,6.0,7.5),(-4.0,6.8,8.5),(-3.5,7.0,9.5),(-3.0,6.5,8.6),(-2.6,5.5,7.8),(-2.2,4.0,6.5),(-1.8,4.5,6.5),(-1.4,2.5,5.0),(-1.0,1.0,3.0),(-0.6,0.2,3.0),(-0.2,0.2,3.0),(0.3,0.2,3.0),(0.7,0.2,3.0),(1.2,0.5,2.0),(1.6,2.0,4.0),(2.0,3.5,5.5),(2.4,4.3,6.0),(2.8,4.5,7.0),(3.2,5.5,7.5),(3.6,5.5,8.0),(4.0,4.5,7.5),(4.4,3.0,6.0),(4.8,2.5,5.0),(5.2,1.0,3.5)]
Z_63 = [-6.4,-6.0,6.0,6.4]

YT_64 = [0, 20, 40, 60, 80, 100]; YD_64 = [-5, 108]
BK_64 = [(-10,5),(-9.2,2),(-8.6,0.5),(-7.5,12),(-6.3,22),(-5.3,10),(-4.7,0.5),(-3.5,45),(-2.1,72),(-1,40),(0,0),(1,40),(2.1,72),(3.5,45),(4.7,0.5),(5.3,10),(6.3,22),(7.5,12),(8.6,0.5),(9.2,2),(10,5)]
PU_64 = [(-10,7),(-8,16),(-6.5,20),(-5,15),(-3.5,45),(-2.2,70),(-1,40),(0,2),(1,40),(2.2,70),(3.5,45),(5,15),(6.5,20),(8,16),(10,7)]
EB_64 = [(-6.2,10,22),(-4.2,22,36),(-3.6,35,50),(-3.0,50,66),(-2.6,65,80),(-2.2,72,90),(-1.8,58,75),(-1.4,55,70),(-1.0,35,52),(-0.6,25,40),(0.6,25,42),(1.0,38,55),(1.4,55,72),(1.8,60,78),(2.2,65,80),(2.6,55,72),(3.0,45,60),(3.4,36,50),(3.8,28,42),(4.4,18,32),(5.5,6,18),(6.2,10,25)]
Z_64 = [-5.2,-4.8,-0.2,0.2,4.8,5.2]

YT_65 = [0, 2, 4, 6, 8, 10]; YD_65 = [-0.45, 10.9]
BK_65 = [(-10,0.25),(-9,0.6),(-8.3,0.7),(-7.5,0.4),(-6.8,0.05),(-5.7,1.8),(-4.5,2.5),(-3.6,1.4),(-3,0.2),(-2,4.0),(-1,7.6),(0,9),(1,7.6),(2,4.0),(3,0.2),(3.6,1.4),(4.5,2.5),(5.7,1.8),(6.8,0.05),(7.5,0.4),(8.3,0.7),(9,0.6),(10,0.25)]
PU_65 = [(-10,0.3),(-8,0.2),(-6,1.2),(-4.5,2.2),(-3,2.6),(-2,5),(-1,7.4),(0,8.5),(1,7.4),(2,5),(3,2.6),(4.5,2.2),(6,1.2),(8,0.2),(10,0.3)]
EB_65 = [(-6.6,0.4,4.7),(-5.45,3.2,5.5),(-2.95,2.0,4.0),(-2.3,2.5,4.5),(-1.8,4.0,6.7),(-1.4,4.7,7.9),(-1.0,5.5,8.5),(-0.7,6.3,9.5),(-0.45,7.9,10.4),(0.0,6.5,9.5),(0.45,5.5,8.5),(0.9,5.0,7.8),(1.35,4.0,6.8),(1.8,3.5,5.7),(2.3,2.4,4.5),(3.2,2.0,4.0),(3.9,2.0,3.8),(4.5,2.0,3.8)]
Z_65 = [-6.4,-6.0,-5.6,-5.2,-4.8,-4.4,-4.0,-3.6,1.6,2.0,2.4,2.8,3.2,3.6,4.0,4.4,4.8,5.2,5.6,6.0,6.4]

# panel table: (black, purple, black dashed, error bars, zero bars, colour, y ticks, y domain)
PANELS = {
    (1, 1): (BK_11, PU_11, None, EB_11, Z_11, RED, YT_11, YD_11),
    (1, 2): (BK_12, PU_12, None, EB_12, Z_12, BLUE, YT_12, YD_12),
    (1, 3): (BK_13, PU_13, None, EB_13, Z_13, BLUE, YT_13, YD_13),
    (1, 4): (BK_14, PU_14, BD_14, EB_14, Z_14, BLUE, YT_14, YD_14),
    (1, 5): (BK_15, PU_15, BD_15, EB_15, Z_15, BLUE, YT_15, YD_15),
    (2, 1): (BK_21, PU_21, None, EB_21, Z_21, BLUE, YT_21, YD_21),
    (2, 2): (BK_22, PU_22, None, EB_22, Z_22, RED, YT_22, YD_22),
    (2, 3): (BK_23, PU_23, BD_23, EB_23, Z_23, BLUE, YT_23, YD_23),
    (2, 4): (BK_24, PU_24, BD_24, EB_24, Z_24, BLUE, YT_24, YD_24),
    (2, 5): (BK_25, PU_25, BD_25, EB_25, Z_25, BLUE, YT_25, YD_25),
    (3, 1): (BK_31, PU_31, None, EB_31, Z_31, BLUE, YT_31, YD_31),
    (3, 2): (BK_32, PU_32, None, EB_32, Z_32, BLUE, YT_32, YD_32),
    (3, 3): (BK_33, PU_33, None, EB_33, Z_33, RED, YT_33, YD_33),
    (3, 4): (BK_34, PU_34, BD_34, EB_34, Z_34, BLUE, YT_34, YD_34),
    (3, 5): (BK_35, PU_35, BD_35, EB_35, Z_35, BLUE, YT_35, YD_35),
    (4, 1): (BK_41, PU_41, BD_41, EB_41, Z_41, BLUE, YT_41, YD_41),
    (4, 2): (BK_42, PU_42, BD_42, EB_42, Z_42, BLUE, YT_42, YD_42),
    (4, 3): (BK_33, PU_33, None, EB_33, Z_33, RED, YT_33, YD_33),
    (4, 4): (BK_44, PU_44, None, EB_44, Z_44, BLUE, YT_44, YD_44),
    (4, 5): (BK_45, PU_45, None, EB_45, Z_45, BLUE, YT_45, YD_45),
    (5, 1): (BK_51, PU_51, BD_51, EB_51, Z_51, BLUE, YT_51, YD_51),
    (5, 2): (BK_52, PU_52, BD_52, EB_52, Z_52, BLUE, YT_52, YD_52),
    (5, 3): (BK_53, PU_53, BD_53, EB_53, Z_53, BLUE, YT_53, YD_53),
    (5, 4): (BK_54, PU_54, None, EB_54, Z_54, RED, YT_54, YD_54),
    (5, 5): (BK_55, PU_55, None, EB_55, Z_55, BLUE, YT_55, YD_55),
    (6, 1): (BK_61, PU_61, BD_61, EB_61, Z_61, BLUE, YT_61, YD_61),
    (6, 2): (BK_62, PU_62, BD_62, EB_62, Z_62, BLUE, YT_62, YD_62),
    (6, 3): (BK_63, PU_63, None, EB_63, Z_63, BLUE, YT_63, YD_63),
    (6, 4): (BK_64, PU_64, None, EB_64, Z_64, BLUE, YT_64, YD_64),
    (6, 5): (BK_65, PU_65, None, EB_65, Z_65, RED, YT_65, YD_65),
}

H = 93
W1 = 155
WTOT = 170.5
FONT = "Liberation Sans"


def lab_w(s):
    return sum(6.12 if ch.isdigit() else 3.06 for ch in s)


def make_panel(r, c):
    bk, pu, bd, eb, z, col, yt, yd = PANELS[(r, c)]
    dec = any(float(v) != int(v) for v in yt)
    fmt = ".1f" if dec else "d"
    labels = [format(v, ".1f") if dec else str(int(v)) for v in yt]
    E = 19 if c == 1 else math.ceil(max(lab_w(s) for s in labels)) + 5
    W = W1 if c == 1 else WTOT - E

    xs = alt.Scale(domain=X_DOMAIN, nice=False, zero=False)
    ys = alt.Scale(domain=yd, nice=False, zero=False)
    xax = alt.Axis(values=X_TICKS, format="d", title=X_TITLE, labelFlush=False,
                   ticks=False, domain=False, grid=False, labelPadding=3, titlePadding=13)
    ykw = dict(values=yt, format=fmt, ticks=False, domain=False, grid=False,
               labelPadding=3, minExtent=E, maxExtent=E)
    if c == 1:
        yax = alt.Axis(title=Y_TITLE, titlePadding=4, titleFontSize=10,
                       titleColor="#8a8a8a", titleFont="DejaVu Sans", **ykw)
    else:
        yax = alt.Axis(title=None, **ykw)

    def X(f):
        return alt.X(f, type="quantitative", scale=xs, axis=xax)

    def Y(f):
        return alt.Y(f, type="quantitative", scale=ys, axis=yax)

    layers = []
    layers.append(alt.Chart(pd.DataFrame({"x": [0]})).mark_rule(
        color="#8c8c8c", strokeWidth=1).encode(x=X("x")))

    layers.append(alt.Chart(pd.DataFrame(pu, columns=["x", "y"])).mark_line(
        color=PURPLE, strokeWidth=2, strokeDash=[10, 5], interpolate="monotone",
        clip=True).encode(x=X("x"), y=Y("y")))

    if eb:
        ebdf = pd.DataFrame(eb, columns=["x", "lo", "hi"])
        layers.append(alt.Chart(ebdf).mark_rule(color=col, strokeWidth=1.8, clip=True).encode(
            x=X("x"), y=Y("lo"), y2=alt.Y2("hi")))
        for f in ["lo", "hi"]:
            layers.append(alt.Chart(ebdf).mark_tick(
                color=col, orient="horizontal", size=5, thickness=1.7, clip=True).encode(
                x=X("x"), y=Y(f)))
    if z:
        zdf = pd.DataFrame({"x": z, "y": [0] * len(z)})
        layers.append(alt.Chart(zdf).mark_tick(
            color=col, orient="horizontal", size=5, thickness=1.7, clip=True).encode(
            x=X("x"), y=Y("y")))

    if bd:
        layers.append(alt.Chart(pd.DataFrame(bd, columns=["x", "y"])).mark_line(
            color=BLACK, strokeWidth=1.6, strokeDash=[6, 3], interpolate="monotone",
            clip=True).encode(x=X("x"), y=Y("y")))

    layers.append(alt.Chart(pd.DataFrame(bk, columns=["x", "y"])).mark_line(
        color=BLACK, strokeWidth=1.8, interpolate="monotone", clip=True).encode(
        x=X("x"), y=Y("y")))

    if c == 1:
        anchor = H / 2
        layers.append(alt.Chart(pd.DataFrame({"t": [ROW_M]})).mark_text(
            angle=270, align="right", baseline="middle", fontSize=18, fontStyle="italic",
            font="DejaVu Sans", color=BLACK).encode(
            text="t:N", x=alt.value(-50), y=alt.value(anchor)))
        layers.append(alt.Chart(pd.DataFrame({"t": [ROW_VALUES[r - 1]]})).mark_text(
            angle=270, align="left", baseline="middle", fontSize=18,
            font="DejaVu Sans", color=BLACK).encode(
            text="t:N", x=alt.value(-50), y=alt.value(anchor)))

    props = dict(width=W, height=H)
    if r == 1:
        props["title"] = alt.TitleParams(COL_TITLES[c - 1], fontSize=17, fontWeight="normal",
                                         font=FONT, offset=9, anchor="middle",
                                         frame="group", color=BLACK)
    return alt.layer(*layers).properties(**props)


rows = [alt.hconcat(*[make_panel(r, c) for c in range(1, 6)], spacing=12)
        for r in range(1, 7)]

chart = alt.vconcat(*rows, spacing=3).properties(
    padding={"left": 7, "top": -6, "right": 2, "bottom": 0}
).configure_view(
    stroke="#9b9b9b", strokeWidth=1
).configure_axis(
    labelFont=FONT, labelFontSize=11, labelColor="#707070",
    titleFont=FONT, titleFontSize=11, titleColor="#707070", titleFontWeight="normal"
)

chart.save("out.html", embed_options={"renderer": "svg", "actions": False})
